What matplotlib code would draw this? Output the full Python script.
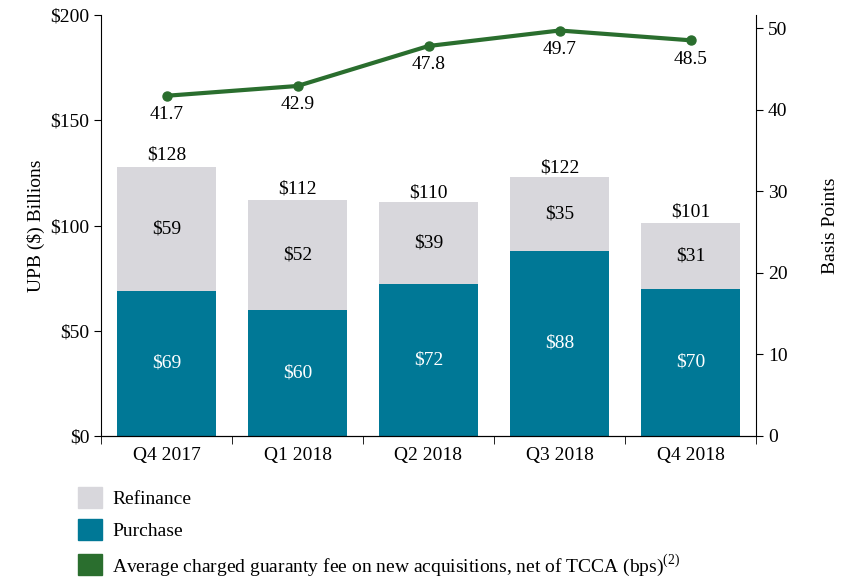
import matplotlib
matplotlib.use("Agg")
import matplotlib.pyplot as plt
from matplotlib.patches import Patch

plt.rcParams['font.family'] = ['Liberation Serif', 'DejaVu Serif']
plt.rcParams['mathtext.fontset'] = 'custom'
plt.rcParams['mathtext.rm'] = 'Liberation Serif'

categories = ["Q4 2017", "Q1 2018", "Q2 2018", "Q3 2018", "Q4 2018"]
purchase = [69, 60, 72, 88, 70]
refinance = [59, 52, 39, 35, 31]
totals = [128, 112, 110, 122, 101]
gfee = [41.7, 42.9, 47.8, 49.7, 48.5]
left_ticks = [0, 50, 100, 150, 200]
right_ticks = [0, 10, 20, 30, 40, 50]

c_purchase = "#007896"
c_refi = "#d8d7dc"
c_line = "#2a6e2e"
fs = 14

fig = plt.figure(figsize=(8.44, 5.79), dpi=100)
ax = fig.add_axes([101/844, 1-436/579, (756-101)/844, (436-15)/579])
x = list(range(len(categories)))
w = 0.755
ax.bar(x, purchase, width=w, color=c_purchase, zorder=2)
ax.bar(x, refinance, width=w, bottom=purchase, color=c_refi, zorder=2)
for i in x:
    ax.text(i, purchase[i]/2, f"${purchase[i]}", ha='center', va='center', color='white', fontsize=fs)
    ax.text(i, purchase[i] + refinance[i]/2, f"${refinance[i]}", ha='center', va='center', color='black', fontsize=fs)
    ax.text(i, totals[i] + 1.5, f"${totals[i]}", ha='center', va='bottom', color='black', fontsize=fs)

ax.set_xlim(-0.5, len(categories)-0.5)
ax.set_ylim(0, 200)
ax.set_yticks(left_ticks)
ax.set_yticklabels([f"${t}" for t in left_ticks], fontsize=fs)
ax.set_ylabel(r"UPB (\$) Billions", fontsize=fs, labelpad=4)
ax.set_xticks(x)
ax.set_xticklabels(categories, fontsize=fs)
ax.tick_params(axis='x', which='major', length=0, pad=8)
ax.set_xticks([i - 0.5 for i in range(len(categories)+1)], minor=True)
ax.tick_params(axis='x', which='minor', length=6, direction='out')
ax.tick_params(axis='y', length=5, direction='out')
ax.spines['top'].set_visible(False)
ax.spines['right'].set_visible(False)

ax2 = ax.twinx()
ax2.plot(x, gfee, color=c_line, lw=3, marker='o', ms=6.5, zorder=3)
for i in x:
    ax2.text(i, gfee[i] - 2.3, f"{gfee[i]}", ha='center', va='center', fontsize=fs)
ax2.set_ylim(0, 51.6)
ax2.set_yticks(right_ticks)
ax2.set_yticklabels([str(t) for t in right_ticks], fontsize=fs)
ax2.tick_params(axis='y', length=5, direction='out')
ax2.set_ylabel("Basis Points", fontsize=fs, labelpad=25)
ax2.spines['top'].set_visible(False)
ax2.spines['left'].set_visible(False)

handles = [Patch(color=c_refi), Patch(color=c_purchase), Patch(color=c_line)]
labels = ["Refinance", "Purchase", r"Average charged guaranty fee on new acquisitions, net of TCCA (bps)$^{\mathregular{(2)}}$"]
fig.legend(handles, labels, loc='upper left', bbox_to_anchor=(78/844, 1-487/579),
           frameon=False, fontsize=fs, handlelength=1.25, handleheight=1.25,
           handletextpad=0.5, labelspacing=0.6, borderaxespad=0, borderpad=0)

fig.savefig("out.png", dpi=100)
